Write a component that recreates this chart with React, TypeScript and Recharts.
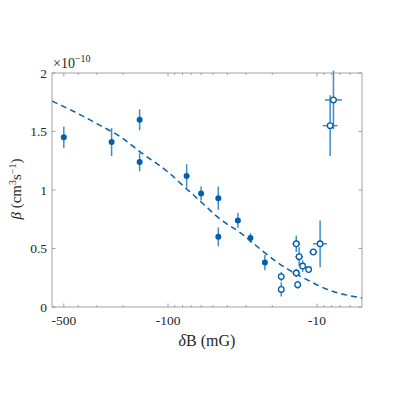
import React from 'react';
import { ScatterChart, Scatter, XAxis, YAxis, ErrorBar } from 'recharts';

// |δB| in mG (axis is log scale, drawn reversed with a minus sign on the labels)
const filledX = [500, 239, 155, 155, 75, 60, 46, 46, 34, 28, 22.4];
const filledY = [1.45, 1.41, 1.6, 1.24, 1.12, 0.97, 0.93, 0.6, 0.74, 0.59, 0.38];
const filledErr = [0.09, 0.12, 0.09, 0.08, 0.1, 0.06, 0.1, 0.08, 0.065, 0.04, 0.065];

const openX = [17.4, 17.4, 13.8, 13.2, 13.8, 13.5, 12.5, 11.4, 10.6, 9.55, 8.18, 7.77];
const openY = [0.26, 0.15, 0.54, 0.43, 0.29, 0.19, 0.35, 0.32, 0.47, 0.54, 1.55, 1.77];
const openYErr = [0.04, 0.06, 0.07, 0.08, 0.035, 0.035, 0.05, 0.02, 0.02, 0.2, 0.26, 0.25];
const openXErr = [
  [0.53, 0.55], [0.53, 0.55], [0.83, 0.88], [0.79, 0.84], [0.83, 0.88], [0.61, 0.64],
  [0.57, 0.59], [0.52, 0.54], [0.64, 0.68], [0.98, 1.09], [0.89, 1.0], [0.96, 1.09],
];

// dashed model curve
const curveX = [600, 500, 400, 300, 200, 154.5, 100, 75, 60, 44, 33, 28, 22.4, 17.7, 14.7, 12.4, 8.6, 5];
const curveY = [1.761, 1.712, 1.652, 1.567, 1.439, 1.328, 1.153, 1.009, 0.898, 0.744, 0.638, 0.565, 0.463, 0.365, 0.301, 0.25, 0.152, 0.077];

const majorX = [500, 100, 10];
const minorX = [400, 300, 200, 90, 80, 70, 60, 50, 40, 30, 20, 9, 8, 7, 6];
const yTicks = [0, 0.5, 1, 1.5, 2];

const filled = filledX.map((x, i) => ({ x, y: filledY[i], ey: filledErr[i] }));
const open = openX.map((x, i) => ({ x, y: openY[i], ey: openYErr[i], ex: openXErr[i] }));
const curve = curveX.map((x, i) => ({ x, y: curveY[i] }));

const BLUE = '#0060ad';
const BAR = '#3f8dc3';
const AXIS = '#8a8a8a';
const TEXT = '#262626';
const serif = { fontFamily: '"Liberation Serif", "DejaVu Serif", serif' };

const xTick = (top: boolean) => (props: any) => {
  const { x, y, payload } = props;
  const major = majorX.includes(payload.value);
  const len = major ? 3.5 : 2;
  return (
    <g>
      <line x1={x} y1={y} x2={x} y2={top ? y + len : y - len} stroke={AXIS} strokeWidth={0.8} />
      {!top && major && (
        <text x={x} y={y + 18} textAnchor="middle" fontSize={13.5} fill={TEXT} style={serif}>
          {`-${payload.value}`}
        </text>
      )}
    </g>
  );
};

const yTick = (right: boolean) => (props: any) => {
  const { x, y, payload } = props;
  return (
    <g>
      <line x1={x} y1={y} x2={right ? x - 3.5 : x + 3.5} y2={y} stroke={AXIS} strokeWidth={0.8} />
      {!right && (
        <text x={x - 5} y={y + 4.5} textAnchor="end" fontSize={13.5} fill={TEXT} style={serif}>
          {payload.value}
        </text>
      )}
    </g>
  );
};

const openDot = (props: any) => (
  <circle cx={props.cx} cy={props.cy} r={2.8} fill="#fff" stroke={BLUE} strokeWidth={1.3} />
);
const filledDot = (props: any) => <circle cx={props.cx} cy={props.cy} r={3} fill={BLUE} />;

export default function App() {
  const xProps = {
    type: 'number' as const,
    dataKey: 'x',
    scale: 'log' as const,
    domain: [5, 600],
    reversed: true,
    allowDataOverflow: true,
    ticks: [...majorX, ...minorX],
    interval: 0 as const,
    tickSize: 0,
    tickMargin: 0,
    tickLine: false,
    axisLine: { stroke: AXIS, strokeWidth: 0.8 },
  };
  const yProps = {
    type: 'number' as const,
    dataKey: 'y',
    domain: [0, 2],
    allowDataOverflow: true,
    ticks: yTicks,
    interval: 0 as const,
    tickSize: 0,
    tickMargin: 0,
    tickLine: false,
    axisLine: { stroke: AXIS, strokeWidth: 0.8 },
  };

  return (
    <div style={{ position: 'absolute', left: 0, top: 0, width: 400, height: 400, background: '#fff' }}>
      <ScatterChart width={400} height={400} margin={{ top: 63, right: 28, bottom: 63, left: 12 }}>
        <XAxis {...xProps} xAxisId="b" orientation="bottom" height={30} tick={xTick(false)} />
        <XAxis {...xProps} xAxisId="t" orientation="top" height={10} tick={xTick(true)} />
        <YAxis {...yProps} yAxisId="l" orientation="left" width={40} tick={yTick(false)} />
        <YAxis {...yProps} yAxisId="r" orientation="right" width={10} tick={yTick(true)} />

        <Scatter
          xAxisId="b"
          yAxisId="l"
          data={curve}
          isAnimationActive={false}
          line={{ stroke: BLUE, strokeWidth: 1.5, strokeDasharray: '6 4' }}
          lineJointType="monotoneX"
          shape={() => <g />}
        />
        <Scatter xAxisId="b" yAxisId="l" data={filled} isAnimationActive={false} shape={filledDot}>
          <ErrorBar dataKey="ey" direction="y" width={0} stroke={BAR} strokeWidth={1.5} isAnimationActive={false} />
        </Scatter>
        <Scatter xAxisId="b" yAxisId="l" data={open} isAnimationActive={false} shape={openDot}>
          <ErrorBar dataKey="ey" direction="y" width={0} stroke={BAR} strokeWidth={1.5} isAnimationActive={false} />
          <ErrorBar dataKey="ex" direction="x" width={0} stroke={BAR} strokeWidth={1.5} isAnimationActive={false} />
        </Scatter>

        <text x={53} y={68} fontSize={14} fill={TEXT} style={serif}>
          ×10
          <tspan fontSize={10} dy={-6}>−10</tspan>
        </text>
        <text x={207} y={346} textAnchor="middle" fontSize={16} fill={TEXT} style={serif}>
          <tspan fontStyle="italic">δ</tspan>B (mG)
        </text>
        <text
          x={0}
          y={0}
          transform="translate(21,189) rotate(-90)"
          textAnchor="middle"
          fontSize={15}
          fill={TEXT}
          style={serif}
        >
          <tspan fontStyle="italic">β</tspan> (cm
          <tspan fontSize={10} dy={-5}>3</tspan>
          <tspan dy={5}>s</tspan>
          <tspan fontSize={10} dy={-5}>−1</tspan>
          <tspan dy={5}>)</tspan>
        </text>
      </ScatterChart>
    </div>
  );
}
